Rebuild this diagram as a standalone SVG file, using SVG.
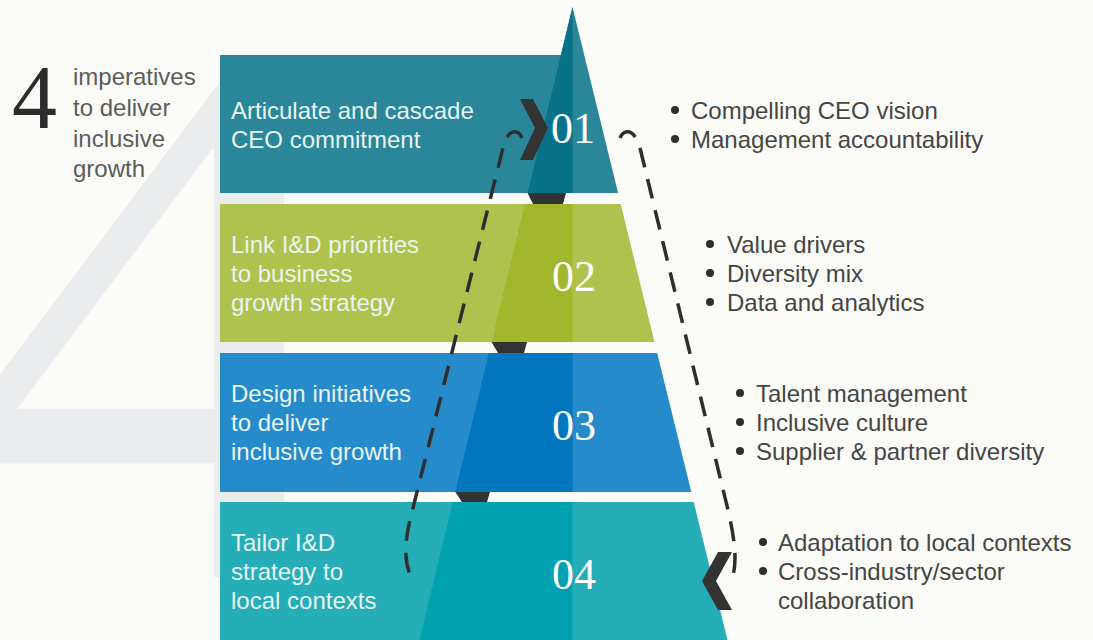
<svg xmlns="http://www.w3.org/2000/svg" width="1093" height="640" viewBox="0 0 1093 640">
  <style>
    .bg4 { font-family: "Liberation Serif", serif; fill: #ebeced; }
    .hdr { font-family: "Liberation Sans", Arial, sans-serif; font-size: 24px; fill: #5c5c5c; }
    .lbl { font-family: "Liberation Sans", Arial, sans-serif; font-size: 24px; fill: #e8f4f5; }
    .num { font-family: "Liberation Serif", serif; font-size: 44px; fill: #ffffff; text-anchor: middle; }
    .itm { font-family: "Liberation Sans", Arial, sans-serif; font-size: 24px; fill: #454545; }
    .dot { fill: #2e2e2e; }
    .tab { fill: #333333; }
    .chev { fill: #333333; }
    .loop { fill: none; stroke: #2e2e2e; stroke-width: 3.5; stroke-dasharray: 20 12; }
  </style>
  <rect x="0" y="0" width="1093" height="640" fill="#fbfbf8"/>
  <!-- big background numeral -->
  <text class="bg4" x="0" y="0" font-size="800" transform="translate(-45,577) scale(1.04,0.984)">4</text>

  <!-- header -->
  <g id="title">
    <text x="12" y="128" font-family="Liberation Serif, serif" font-size="90" fill="#2d2d2d">4</text>
    <text class="hdr" x="73" y="85">imperatives</text>
    <text class="hdr" x="73" y="116">to deliver</text>
    <text class="hdr" x="73" y="147">inclusive</text>
    <text class="hdr" x="73" y="177">growth</text>
  </g>

  <g id="step1">
    <polygon points="220,55 560.9,55 572.5,7 618.1,193 220,193" fill="#2a8799"/>
    <polygon points="572.5,7 572.5,193 527.5,193" fill="#07728a"/>
    <polygon class="tab" points="527.5,193 566,193 563,204 533,204"/>
    <polygon class="chev" points="520,99 533,99 548,128 533,160 520,160 535,128"/>
    <text class="lbl" x="231" y="119">Articulate and cascade</text>
    <text class="lbl" x="231" y="148">CEO commitment</text>
    <text class="num" x="573" y="143">01</text>
  </g>

  <g id="step2">
    <polygon points="220,204 620.7,204 654.5,342 220,342" fill="#b0c24e"/>
    <polygon points="524.9,204 572.5,204 572.5,342 491.5,342" fill="#a2b72d"/>
    <polygon class="tab" points="491.5,342 527,342 524,353 498,353"/>
    <text class="lbl" x="231" y="253">Link I&amp;D priorities</text>
    <text class="lbl" x="231" y="282">to business</text>
    <text class="lbl" x="231" y="311">growth strategy</text>
    <text class="num" x="574" y="291">02</text>
  </g>

  <g id="step3">
    <polygon points="220,353 657.2,353 691.3,492 220,492" fill="#268bcb"/>
    <polygon points="488.9,353 572.5,353 572.5,492 455.3,492" fill="#0276be"/>
    <polygon class="tab" points="455.3,492 490,492 487,502 462,502"/>
    <text class="lbl" x="231" y="402">Design initiatives</text>
    <text class="lbl" x="231" y="431">to deliver</text>
    <text class="lbl" x="231" y="460">inclusive growth</text>
    <text class="num" x="574" y="440">03</text>
  </g>

  <g id="step4">
    <polygon points="220,502 693.7,502 727.5,640 220,640" fill="#25adb8"/>
    <polygon points="452.9,502 572.5,502 572.5,640 419.5,640" fill="#01a1b0"/>
    <polygon class="chev" points="732,552 718,552 702,581 718,610 732,610 716,581"/>
    <text class="lbl" x="231" y="551">Tailor I&amp;D</text>
    <text class="lbl" x="231" y="580">strategy to</text>
    <text class="lbl" x="231" y="609">local contexts</text>
    <text class="num" x="574" y="589">04</text>
  </g>

  <g id="connectors">
    <path class="loop" d="M522,138 C518,128 507,129 503,148 L410,520 C404,545 404,565 413,581"/>
    <path class="loop" d="M620,138 C624,128 635,129 640,148 L728,510 C735,540 738,565 731,581"/>
  </g>

  <g id="list1">
    <circle class="dot" cx="675" cy="110" r="4"/>
    <text class="itm" x="691" y="119">Compelling CEO vision</text>
    <circle class="dot" cx="675" cy="139" r="4"/>
    <text class="itm" x="691" y="148">Management accountability</text>
  </g>
  <g id="list2">
    <circle class="dot" cx="710" cy="244" r="4"/>
    <text class="itm" x="727" y="253">Value drivers</text>
    <circle class="dot" cx="710" cy="273" r="4"/>
    <text class="itm" x="727" y="282">Diversity mix</text>
    <circle class="dot" cx="710" cy="302" r="4"/>
    <text class="itm" x="727" y="311">Data and analytics</text>
  </g>
  <g id="list3">
    <circle class="dot" cx="740" cy="393" r="4"/>
    <text class="itm" x="756" y="402">Talent management</text>
    <circle class="dot" cx="740" cy="422" r="4"/>
    <text class="itm" x="756" y="431">Inclusive culture</text>
    <circle class="dot" cx="740" cy="451" r="4"/>
    <text class="itm" x="756" y="460">Supplier &amp; partner diversity</text>
  </g>
  <g id="list4">
    <circle class="dot" cx="763" cy="542" r="4"/>
    <text class="itm" x="778" y="551">Adaptation to local contexts</text>
    <circle class="dot" cx="763" cy="571" r="4"/>
    <text class="itm" x="778" y="580">Cross-industry/sector</text>
    <text class="itm" x="778" y="609">collaboration</text>
  </g>
</svg>
